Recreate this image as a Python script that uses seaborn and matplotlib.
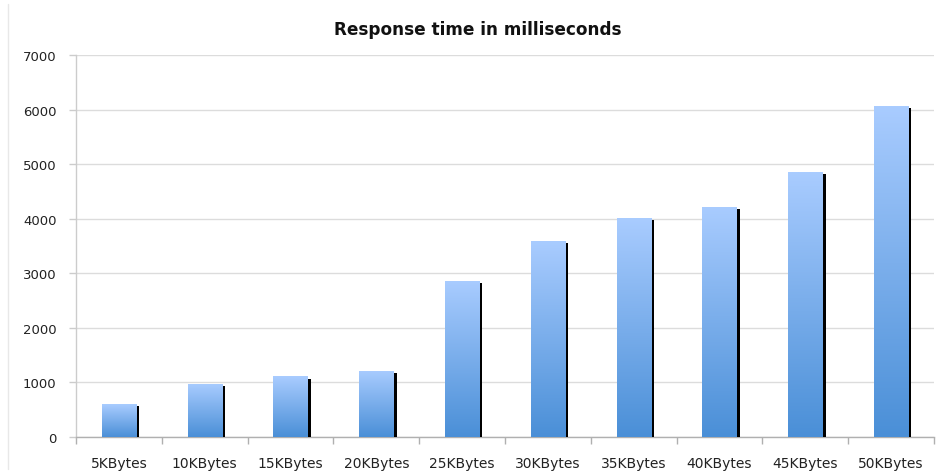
import matplotlib
matplotlib.use("Agg")
import matplotlib.pyplot as plt
import matplotlib.patheffects as pe
from matplotlib.colors import LinearSegmentedColormap
from matplotlib.lines import Line2D
import numpy as np
import pandas as pd
import seaborn as sns

categories = ["5KBytes", "10KBytes", "15KBytes", "20KBytes", "25KBytes",
              "30KBytes", "35KBytes", "40KBytes", "45KBytes", "50KBytes"]
response_ms = [600, 980, 1110, 1210, 2860, 3590, 4010, 4220, 4850, 6060]
y_ticks = [0, 1000, 2000, 3000, 4000, 5000, 6000, 7000]
title = "Response time in milliseconds"

sns.set_theme(style="white")
plt.rcParams["font.family"] = ["DejaVu Sans"]

df = pd.DataFrame({"size": categories, "ms": response_ms})

fig = plt.figure(figsize=(9.37, 4.77), dpi=100)
ax = fig.add_axes([76 / 937, 1 - 438 / 477, (934 - 76) / 937, (438 - 56) / 477])

sns.barplot(data=df, x="size", y="ms", ax=ax, color="#7aaee8", width=0.4,
            saturation=1, zorder=3)

cmap = LinearSegmentedColormap.from_list("bar", ["#4a8fd7", "#a9ccff"])
grad = np.linspace(0, 1, 256).reshape(-1, 1)
for p in ax.patches:
    p.set_path_effects([pe.SimplePatchShadow(offset=(2.3, -1.5), shadow_rgbFace="black",
                                             alpha=1.0, rho=0), pe.Normal()])
    p.set_edgecolor("none")
    x0, w, h = p.get_x(), p.get_width(), p.get_height()
    im = ax.imshow(grad, extent=[x0, x0 + w, 0, h], origin="lower", aspect="auto",
                   cmap=cmap, zorder=3.5, interpolation="bilinear")
    im.set_clip_path(p)

ax.set_xlim(-0.5, len(categories) - 0.5)
ax.set_ylim(0, 7000)
ax.set_yticks(y_ticks)
ax.set_yticklabels([str(v) for v in y_ticks])
ax.set_xlabel("")
ax.set_ylabel("")

ax.yaxis.grid(True, color="#dcdcdc", linewidth=1, zorder=0)
ax.set_axisbelow(True)

for s in ["top", "right"]:
    ax.spines[s].set_visible(False)
ax.spines["left"].set_color("#cccccc")
ax.spines["bottom"].set_color("#b0b0b0")
ax.spines["left"].set_linewidth(1)
ax.spines["bottom"].set_linewidth(1)

ax.set_xticks(np.arange(-0.5, len(categories), 1.0), minor=True)
ax.tick_params(axis="x", which="major", length=0, pad=14, labelsize=10, labelcolor="#222222")
ax.tick_params(axis="x", which="minor", length=5, color="#b0b0b0", width=1, bottom=True)
ax.tick_params(axis="y", which="major", length=5, color="#cccccc", width=1, left=True,
               pad=9, labelsize=9.5, labelcolor="#222222")

fig.text(478 / 937, 1 - 30 / 477, title, ha="center", va="center",
         fontsize=12.2, fontweight="bold", color="#111111")

fig.add_artist(Line2D([8 / 937, 8 / 937], [1 - 470 / 477, 1 - 5 / 477],
                      transform=fig.transFigure, color="#e8e8e8", linewidth=1))

fig.savefig("out.png", dpi=100)
